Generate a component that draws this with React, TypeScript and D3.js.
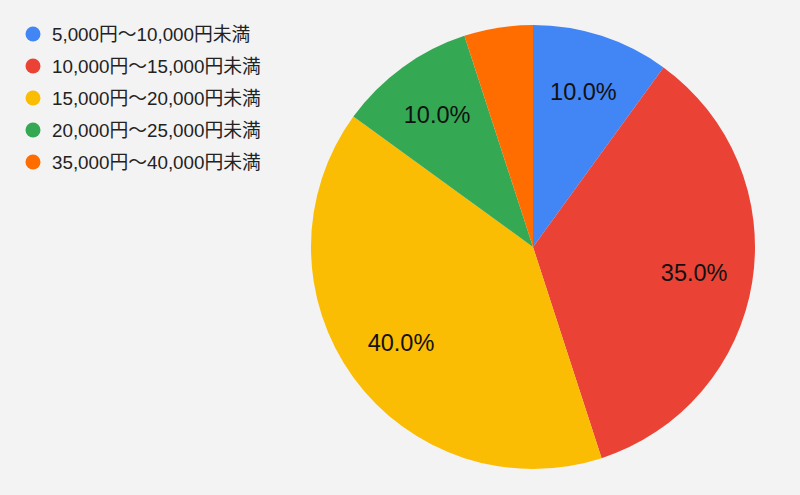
import React from "react";
import * as d3 from "d3";

const categories = [
  "5,000円〜10,000円未満",
  "10,000円〜15,000円未満",
  "15,000円〜20,000円未満",
  "20,000円〜25,000円未満",
  "35,000円〜40,000円未満",
];
const values = [10, 35, 40, 10, 5];
const colors = ["#4285f4", "#ea4335", "#fbbc04", "#34a853", "#ff6d01"];

const W = 800;
const H = 495;
const cx = 533;
const cy = 247;
const R = 222;

export default function App() {
  const pie = d3.pie<number>().sort(null).value((d) => d);
  const arcs = pie(values);
  const arc = d3.arc<d3.PieArcDatum<number>>().innerRadius(0).outerRadius(R);
  const labelArc = d3
    .arc<d3.PieArcDatum<number>>()
    .innerRadius(R * 0.735)
    .outerRadius(R * 0.735);
  const total = d3.sum(values);
  const font = "'Liberation Sans', Arial, 'Noto Sans CJK JP', sans-serif";
  return (
    <svg
      width={W}
      height={H}
      style={{ position: "absolute", left: 0, top: 0, background: "#f3f3f3" }}
    >
      <rect width={W} height={H} fill="#f3f3f3" />
      <g transform={`translate(${cx},${cy})`}>
        {arcs.map((a, i) => (
          <path key={i} d={arc(a) || ""} fill={colors[i]} />
        ))}
        {arcs.map((a, i) => {
          const pct = (a.data / total) * 100;
          if (pct < 7) return null;
          const [x, y] = labelArc.centroid(a);
          return (
            <text
              key={i}
              x={x}
              y={y}
              textAnchor="middle"
              dominantBaseline="central"
              fontFamily={font}
              fontSize={23.5}
              fill="#111"
            >
              {pct.toFixed(1) + "%"}
            </text>
          );
        })}
      </g>
      <g>
        {categories.map((c, i) => (
          <g key={i} transform={`translate(33,${34 + i * 32})`}>
            <circle r={7.5} fill={colors[i]} />
            <text
              x={19}
              y={0}
              dominantBaseline="central"
              fontFamily={font}
              fontSize={18.8}
              fill="#222"
            >
              {c}
            </text>
          </g>
        ))}
      </g>
    </svg>
  );
}
